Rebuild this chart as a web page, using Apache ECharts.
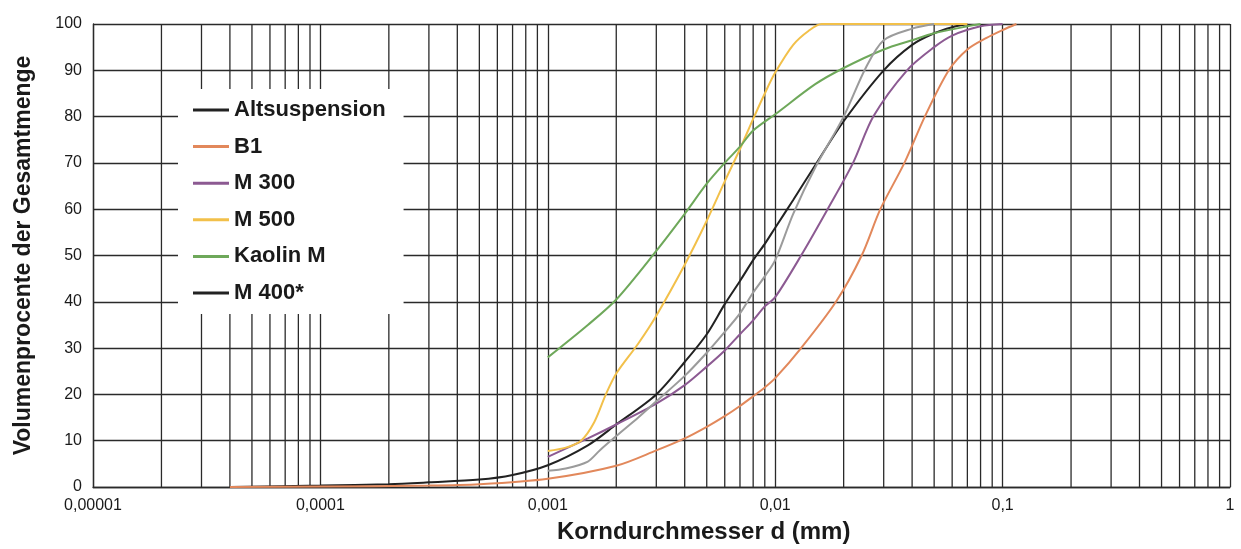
<!DOCTYPE html>
<html>
<head>
<meta charset="utf-8">
<script src="https://cdn.jsdelivr.net/npm/echarts@6/dist/echarts.min.js"></script>
<style>
html,body{margin:0;padding:0;background:#fff;}
#chart{width:1241px;height:549px;}
</style>
</head>
<body>
<div id="chart"></div>
<script>
// ---- Data (grain diameter d in mm, volume percent) ----
const seriesNames = ['Altsuspension', 'B1', 'M 300', 'M 500', 'Kaolin M', 'M 400*'];
const xTickLabels = ['0,00001', '0,0001', '0,001', '0,01', '0,1', '1'];
const yTickLabels = ['0','10','20','30','40','50','60','70','80','90','100'];

const altsuspension = [
  [0.00004,0],[0.0001,0.3],[0.0002,0.6],[0.0003,1.0],[0.0005,1.6],[0.0007,2.6],[0.001,4.7],
  [0.0015,9],[0.002,13.5],[0.003,20],[0.004,27],[0.005,33],[0.006,39.5],[0.007,44.5],
  [0.008,49],[0.009,52.5],[0.01,56],[0.012,62],[0.015,69.5],[0.02,79],[0.03,90],
  [0.04,95.5],[0.05,98],[0.06,99.3],[0.07,100]
];
const b1 = [
  [0.00004,0],[0.0001,0.1],[0.0003,0.3],[0.0005,0.6],[0.001,1.8],[0.002,4.6],[0.003,7.9],
  [0.004,10.5],[0.005,13],[0.006,15.3],[0.007,17.5],[0.008,19.6],[0.009,21.5],[0.01,23.5],
  [0.013,30],[0.0185,40],[0.024,50],[0.029,60],[0.037,70],[0.0455,80],[0.058,90],
  [0.07,94.5],[0.085,97],[0.1,98.7],[0.115,100]
];
const m300 = [
  [0.001,6.5],[0.0015,10.5],[0.002,13.5],[0.003,18],[0.004,22],[0.005,26],[0.006,29.5],
  [0.007,33],[0.008,36],[0.009,39],[0.01,41],[0.013,50],[0.017,60],[0.022,70],[0.027,80],
  [0.038,90],[0.05,95],[0.06,97.5],[0.08,99.5],[0.1,100]
];
const m500 = [
  [0.001,7.8],[0.0012,8.5],[0.0014,10],[0.0016,14],[0.0018,20],[0.002,24.5],[0.0025,31],
  [0.003,37],[0.004,48],[0.005,57.5],[0.006,66],[0.007,73],[0.008,79.5],[0.009,85],
  [0.01,89.5],[0.012,95.5],[0.014,98.5],[0.016,100],[0.07,100]
];
const kaolinM = [
  [0.001,28],[0.0015,35],[0.002,40.5],[0.003,51],[0.004,59],[0.005,65.5],[0.006,70],
  [0.007,73.5],[0.008,77],[0.01,80.5],[0.015,87],[0.02,90.5],[0.03,94.5],[0.04,96.5],
  [0.05,98],[0.07,99.5],[0.08,100]
];
const m400 = [
  [0.001,3.5],[0.0012,4],[0.0015,5.5],[0.0017,8],[0.002,11],[0.0025,15],[0.003,18.5],
  [0.004,24],[0.005,29],[0.006,33.5],[0.007,37.5],[0.008,42],[0.009,45.5],[0.01,49],
  [0.012,59],[0.015,69],[0.02,80],[0.025,90.5],[0.03,96.5],[0.04,99],[0.05,100]
];
// log-grid subdivisions (2..9 within every decade)
const decades = [0.00001, 0.0001, 0.001, 0.01, 0.1];
const subSteps = [2,3,4,5,6,7,8,9];

const colors = ['#222222', '#e2885b', '#8c5a92', '#f2c04a', '#6ea85a', '#9b9b9b'];
const dataSets = [altsuspension, b1, m300, m500, kaolinM, m400];

const gridColor = '#2a2a2a';
// vertical minor grid lines as one broken line series (value, bottom) -> (value, top) -> break
const minorGridData = [];
decades.forEach(d => subSteps.forEach(k => {
  const v = +(d * k).toPrecision(6);
  minorGridData.push([v, 0], [v, 100], [v, '-']);
}));

const chart = echarts.init(document.getElementById('chart'));
const series = [{
  name: '_grid',
  type: 'line',
  data: minorGridData,
  symbol: 'none',
  silent: true,
  connectNulls: false,
  z: 1,
  lineStyle: { color: gridColor, width: 1.3 },
  emphasis: { disabled: true }
}];
seriesNames.forEach((name, i) => series.push({
  name: name,
  type: 'line',
  data: dataSets[i],
  symbol: 'none',
  smooth: 0.3,
  z: 3,
  lineStyle: { color: colors[i], width: 2 },
  itemStyle: { color: colors[i] }
}));

const legendData = seriesNames.map(n => (
  n === 'M 400*' ? { name: n, itemStyle: { color: '#222' } } : { name: n }
));

chart.setOption({
  animation: false,
  backgroundColor: '#fff',
  title: {
    text: 'Korndurchmesser d (mm)',
    left: 557,
    top: 520,
    padding: 0,
    textStyle: { fontFamily: 'Liberation Sans, Arial, sans-serif', fontWeight: 'bold', fontSize: 24, color: '#1a1a1a' }
  },
  legend: {
    data: legendData,
    orient: 'vertical',
    left: 178,
    top: 89,
    z: 10,
    padding: [10, 18, 10, 15],
    itemGap: 14.6,
    itemWidth: 36,
    itemHeight: 3,
    icon: 'rect',
    backgroundColor: '#ffffff',
    selectedMode: false,
    textStyle: { fontFamily: 'Liberation Sans, Arial, sans-serif', fontWeight: 'bold', fontSize: 22, lineHeight: 22, color: '#1a1a1a' }
  },
  grid: { left: 93, right: 11, top: 24, bottom: 62, containLabel: false },
  xAxis: {
    type: 'log',
    logBase: 10,
    min: 0.00001,
    max: 1,
    splitNumber: 5,
    axisLine: { show: true, lineStyle: { color: gridColor, width: 1.3 } },
    axisTick: { show: false },
    splitLine: { show: true, lineStyle: { color: gridColor, width: 1.3 } },
    axisLabel: {
      margin: 11,
      fontFamily: 'Liberation Sans, Arial, sans-serif',
      fontSize: 16,
      color: '#1a1a1a',
      showMinLabel: true,
      showMaxLabel: true,
      formatter: function (v) {
        const idx = Math.round(Math.log10(v)) + 5;
        return xTickLabels[idx] !== undefined ? xTickLabels[idx] : '';
      }
    }
  },
  yAxis: {
    type: 'value',
    min: 0,
    max: 100,
    interval: 10,
    name: 'Volumenprocente der Gesamtmenge',
    nameLocation: 'middle',
    nameGap: 58,
    nameTextStyle: { fontFamily: 'Liberation Sans, Arial, sans-serif', fontWeight: 'bold', fontSize: 23, color: '#1a1a1a' },
    axisLine: { show: true, lineStyle: { color: gridColor, width: 1.3 } },
    axisTick: { show: false },
    splitLine: { show: true, lineStyle: { color: gridColor, width: 1.3 } },
    axisLabel: {
      margin: 11,
      fontFamily: 'Liberation Sans, Arial, sans-serif',
      fontSize: 16,
      color: '#1a1a1a',
      formatter: function (v) { return yTickLabels[Math.round(v / 10)]; }
    }
  },
  series: series
});
</script>
</body>
</html>
